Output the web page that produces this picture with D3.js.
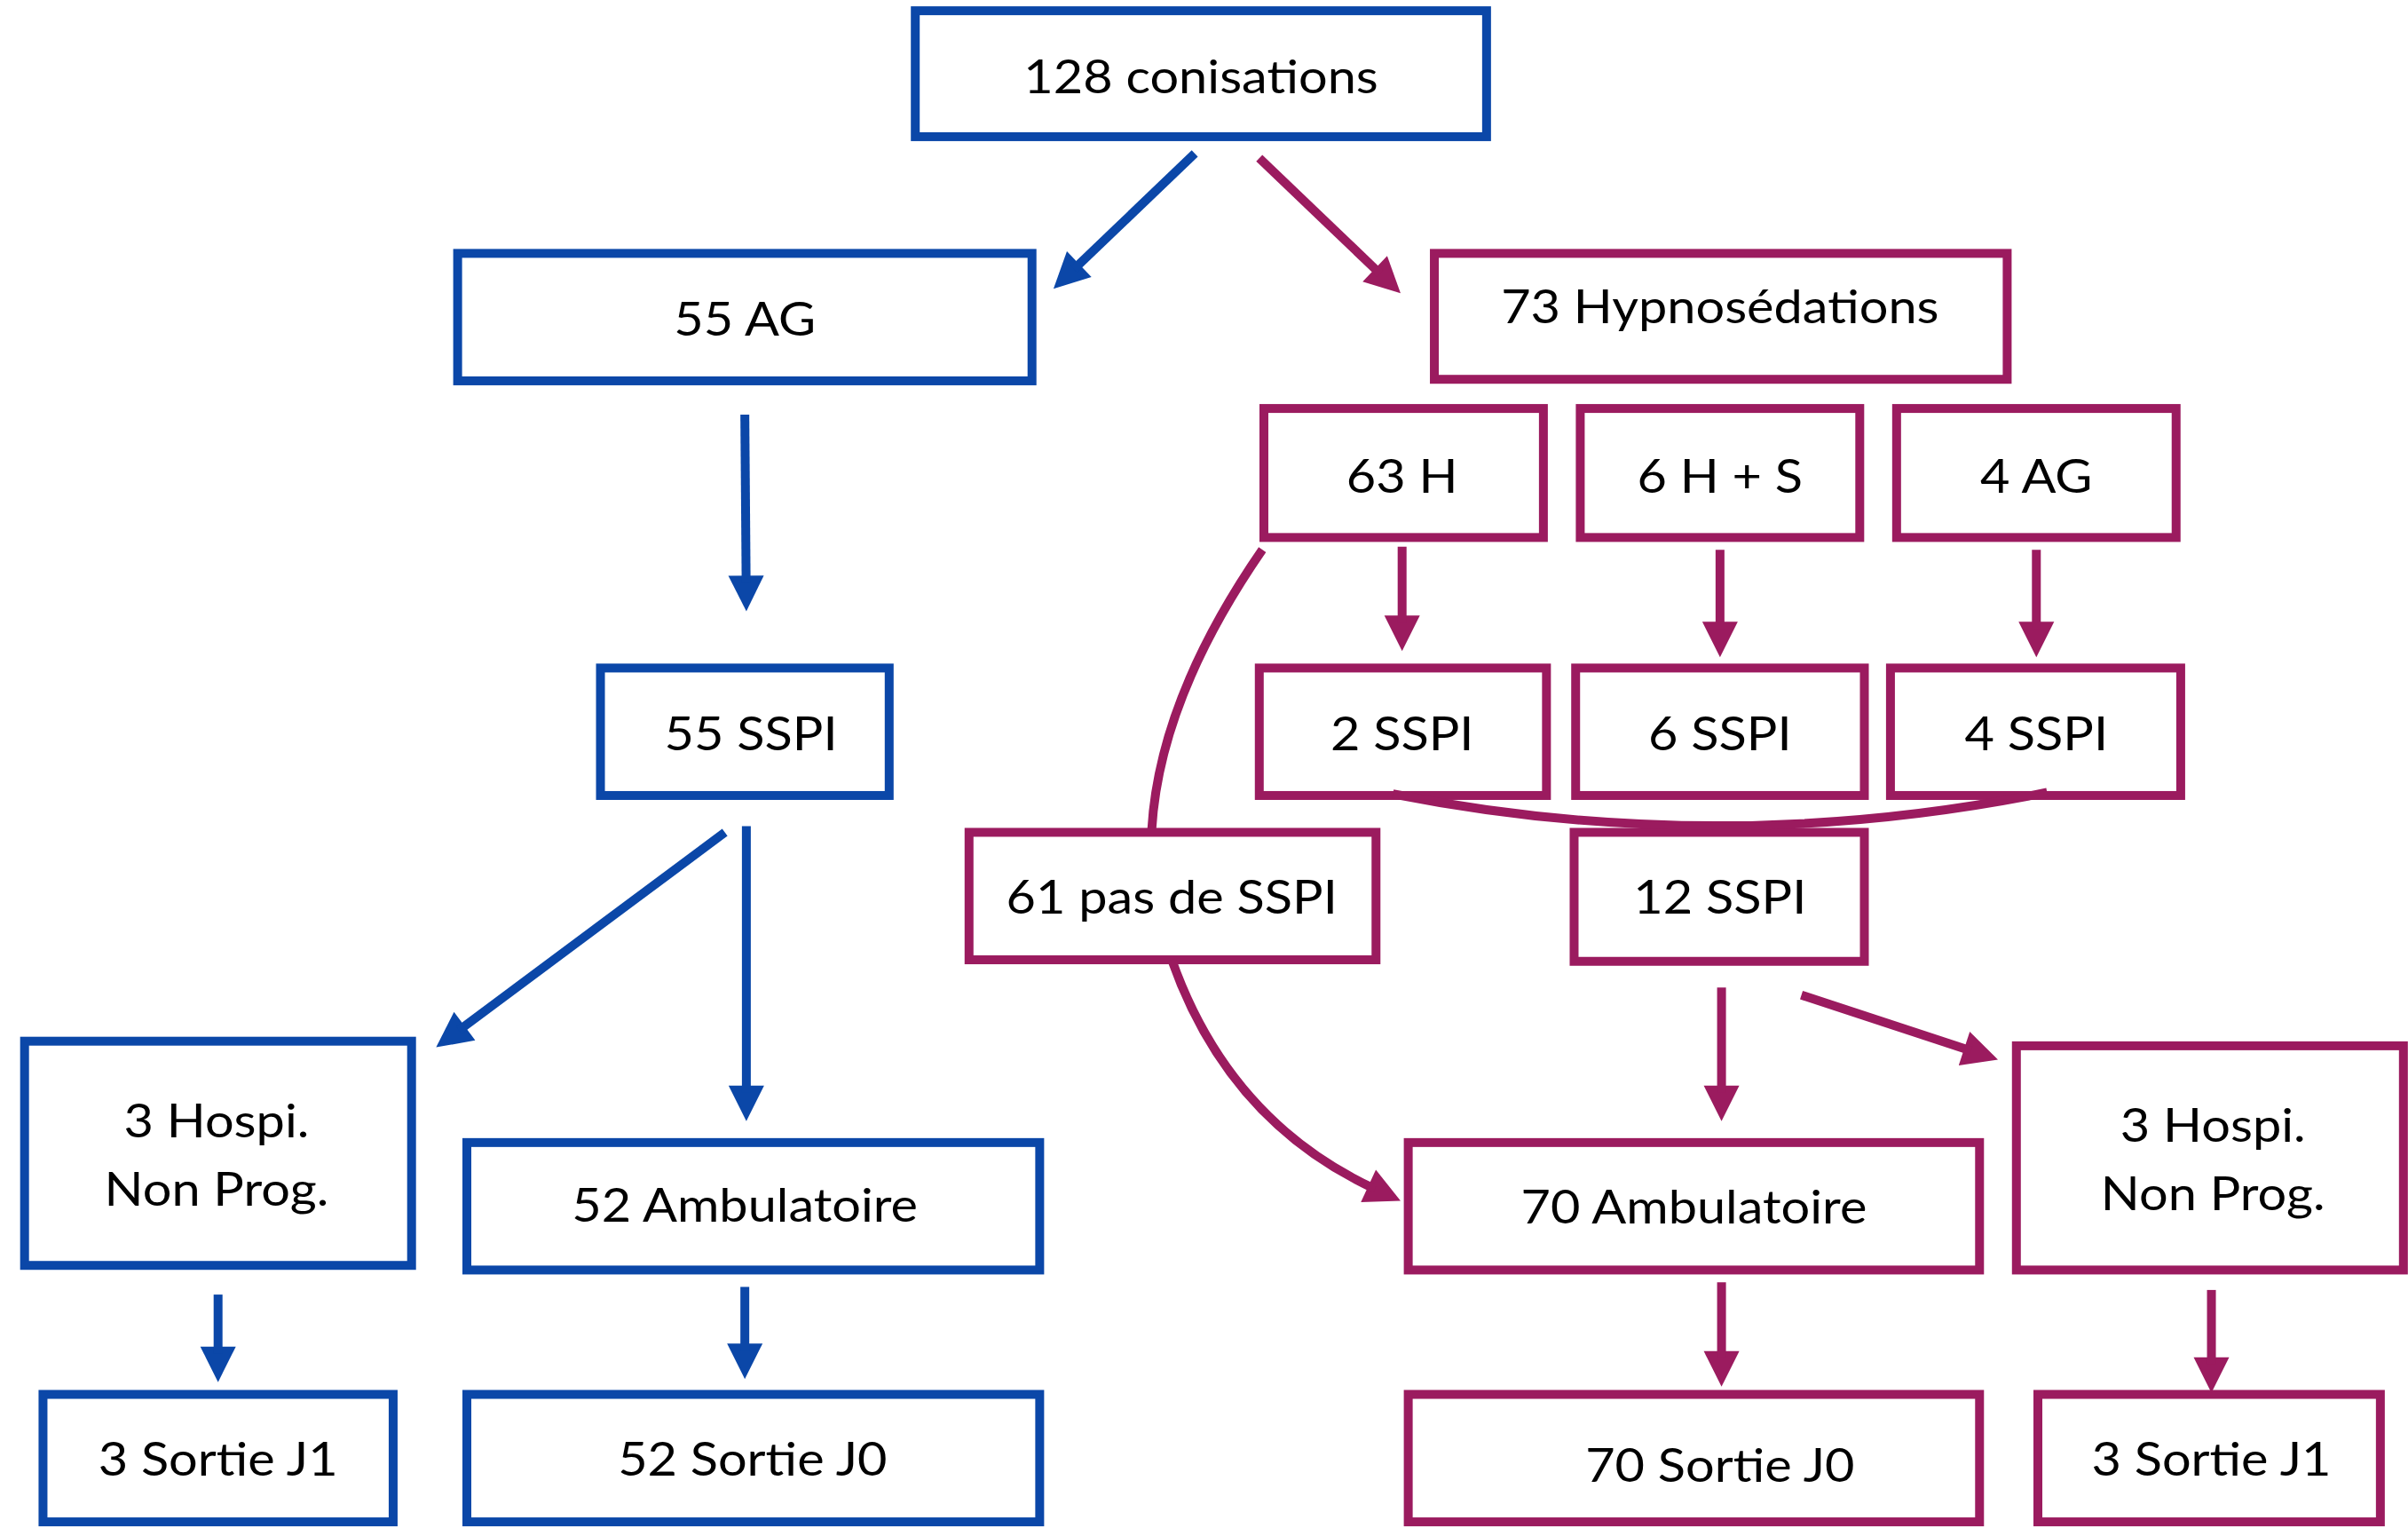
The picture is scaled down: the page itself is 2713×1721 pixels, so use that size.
<!DOCTYPE html>
<html>
<head>
<meta charset="utf-8">
<script src="https://cdn.jsdelivr.net/npm/d3@7"></script>
<style>
  html, body { margin: 0; padding: 0; background: #fff; }
  svg text { font-family: Lato, "Open Sans", sans-serif; fill: #000; }
</style>
</head>
<body>
<div id="flow"></div>
<script>
// node labels (one entry per box, lines split with \n)
var labels = [
  "128 conisations", "55 AG", "73 Hypnosédations",
  "63 H", "6 H + S", "4 AG",
  "55 SSPI", "2 SSPI", "6 SSPI", "4 SSPI",
  "61 pas de SSPI", "12 SSPI",
  "3 Hospi.\nNon Prog.", "52 Ambulatoire", "70 Ambulatoire", "3 Hospi.\nNon Prog.",
  "3 Sortie J1", "52 Sortie J0", "70 Sortie J0", "3 Sortie J1"
];
// branch of each node: 0 = AG (blue), 1 = hypnosedation (purple)
var branch = [0, 0, 1, 1, 1, 1, 0, 1, 1, 1, 1, 1, 0, 0, 1, 1, 0, 0, 1, 1];

// straight links [from, to] and curved links
var links = [[0, 1], [0, 2], [1, 6], [6, 12], [6, 13], [12, 16], [13, 17],
             [3, 7], [4, 8], [5, 9], [11, 14], [11, 15], [14, 18], [15, 19]];
var curves = [[3, 10], [10, 14], [7, 9]];

// layout, in units of the 1568 x 995 reference sketch
var boxes = [
  [596, 7, 968, 89], [298, 165, 672, 248], [934, 165, 1307, 247],
  [823, 266, 1005, 350], [1029, 266, 1211, 350], [1235, 266, 1417, 350],
  [391, 435, 579, 518], [820, 435, 1007, 518], [1026, 435, 1214, 518], [1231, 435, 1420, 518],
  [631, 542, 896, 625], [1025, 542, 1214, 626],
  [16, 678, 268, 824], [304, 744, 677, 827], [917, 744, 1289, 827], [1313, 681, 1565, 827],
  [28, 908, 256, 991], [304, 908, 677, 991], [917, 908, 1289, 991], [1327, 908, 1550, 991]
];
var textPos = [
  [782, 50], [485, 208], [1120, 200],
  [913, 310], [1120, 310], [1326, 310],
  [489, 478], [913, 478], [1120, 478], [1326, 478],
  [763, 584], [1120, 584],
  [141, 752], [485, 785], [1103, 786], [1441, 755],
  [142, 950], [490, 950], [1120, 954], [1440, 950]
];
// arrow start / tip points for straight links
var linkPts = [
  [[778, 100], [686, 188]], [[820, 103], [912, 191]], [[485, 270], [486, 398]],
  [[472, 542], [284, 682]], [[486, 538], [486, 730]], [[142, 843], [142, 900]],
  [[485, 838], [485, 898]],
  [[913, 356], [913, 424]], [[1120, 358], [1120, 428]], [[1326, 358], [1326, 428]],
  [[1121, 643], [1121, 730]], [[1173, 648], [1301, 690]], [[1121, 835], [1121, 903]],
  [[1440, 840], [1440, 907]]
];
// curves: start, control, end, arrow?
var curvePts = [
  [[822, 358], [755, 455], [750, 540], false],
  [[763, 625], [800, 730], [912, 782], true],
  [[907, 517], [1120, 559], [1333, 516], false]
];

var W = 2713, H = 1721;
var colors = ["#0b47a8", "#9b1b5f"];

var x = d3.scaleLinear().domain([0, 1568]).range([0, W]);
var y = d3.scaleLinear().domain([0, 995]).range([0, H]);

var svg = d3.select("#flow").append("svg")
  .attr("width", W).attr("height", H);

var sw = 10, headLen = 40, headW = 20, fontSize = 53;

var node = svg.selectAll("g.node").data(labels).enter()
  .append("g").attr("class", "node");

node.append("rect")
  .attr("x", function(d, i) { return x(boxes[i][0]); })
  .attr("y", function(d, i) { return y(boxes[i][1]); })
  .attr("width", function(d, i) { return x(boxes[i][2]) - x(boxes[i][0]); })
  .attr("height", function(d, i) { return y(boxes[i][3]) - y(boxes[i][1]); })
  .attr("fill", "#fff")
  .attr("stroke", function(d, i) { return colors[branch[i]]; })
  .attr("stroke-width", sw);

var texts = node.append("text")
  .attr("text-anchor", "middle")
  .attr("font-size", fontSize)
  .each(function(d, i) {
    var lines = d.split("\n");
    var t = d3.select(this);
    lines.forEach(function(l, k) {
      t.append("tspan")
        .attr("x", 0)
        .attr("dy", k == 0 ? (0.35 - (lines.length - 1) * 0.5 * 1.46) + "em" : "1.46em")
        .text(l);
    });
  });

// squeeze text horizontally to match the narrow face of the original
var probe = texts.filter(function(d, i) { return i == 0; }).node().getComputedTextLength();
var squeeze = (x(898) - x(667)) / probe;
texts.attr("transform", function(d, i) {
  return "translate(" + x(textPos[i][0]) + "," + y(textPos[i][1]) + ") scale(" + squeeze + ",1)";
});

function arrowHead(tip, dir, color) {
  var len = Math.sqrt(dir[0] * dir[0] + dir[1] * dir[1]);
  var ux = dir[0] / len, uy = dir[1] / len;
  var bx = tip[0] - ux * headLen, by = tip[1] - uy * headLen;
  svg.append("path")
    .attr("d", "M" + tip[0] + "," + tip[1] +
      "L" + (bx - uy * headW) + "," + (by + ux * headW) +
      "L" + (bx + uy * headW) + "," + (by - ux * headW) + "Z")
    .attr("fill", color);
  return [tip[0] - ux * headLen * 0.8, tip[1] - uy * headLen * 0.8];
}

links.forEach(function(l, i) {
  var color = colors[branch[l[1]]];
  var p0 = [x(linkPts[i][0][0]), y(linkPts[i][0][1])];
  var p1 = [x(linkPts[i][1][0]), y(linkPts[i][1][1])];
  var end = arrowHead(p1, [p1[0] - p0[0], p1[1] - p0[1]], color);
  svg.append("line")
    .attr("x1", p0[0]).attr("y1", p0[1])
    .attr("x2", end[0]).attr("y2", end[1])
    .attr("stroke", color).attr("stroke-width", sw);
});

curves.forEach(function(c, i) {
  var color = colors[1];
  var cp = curvePts[i];
  var p0 = [x(cp[0][0]), y(cp[0][1])];
  var pc = [x(cp[1][0]), y(cp[1][1])];
  var p1 = [x(cp[2][0]), y(cp[2][1])];
  var end = p1;
  if (cp[3]) {
    end = arrowHead(p1, [p1[0] - pc[0], p1[1] - pc[1]], color);
  }
  var path = d3.path();
  path.moveTo(p0[0], p0[1]);
  path.quadraticCurveTo(pc[0], pc[1], end[0], end[1]);
  svg.append("path")
    .attr("d", path.toString())
    .attr("fill", "none")
    .attr("stroke", color).attr("stroke-width", sw);
});
</script>
</body>
</html>
